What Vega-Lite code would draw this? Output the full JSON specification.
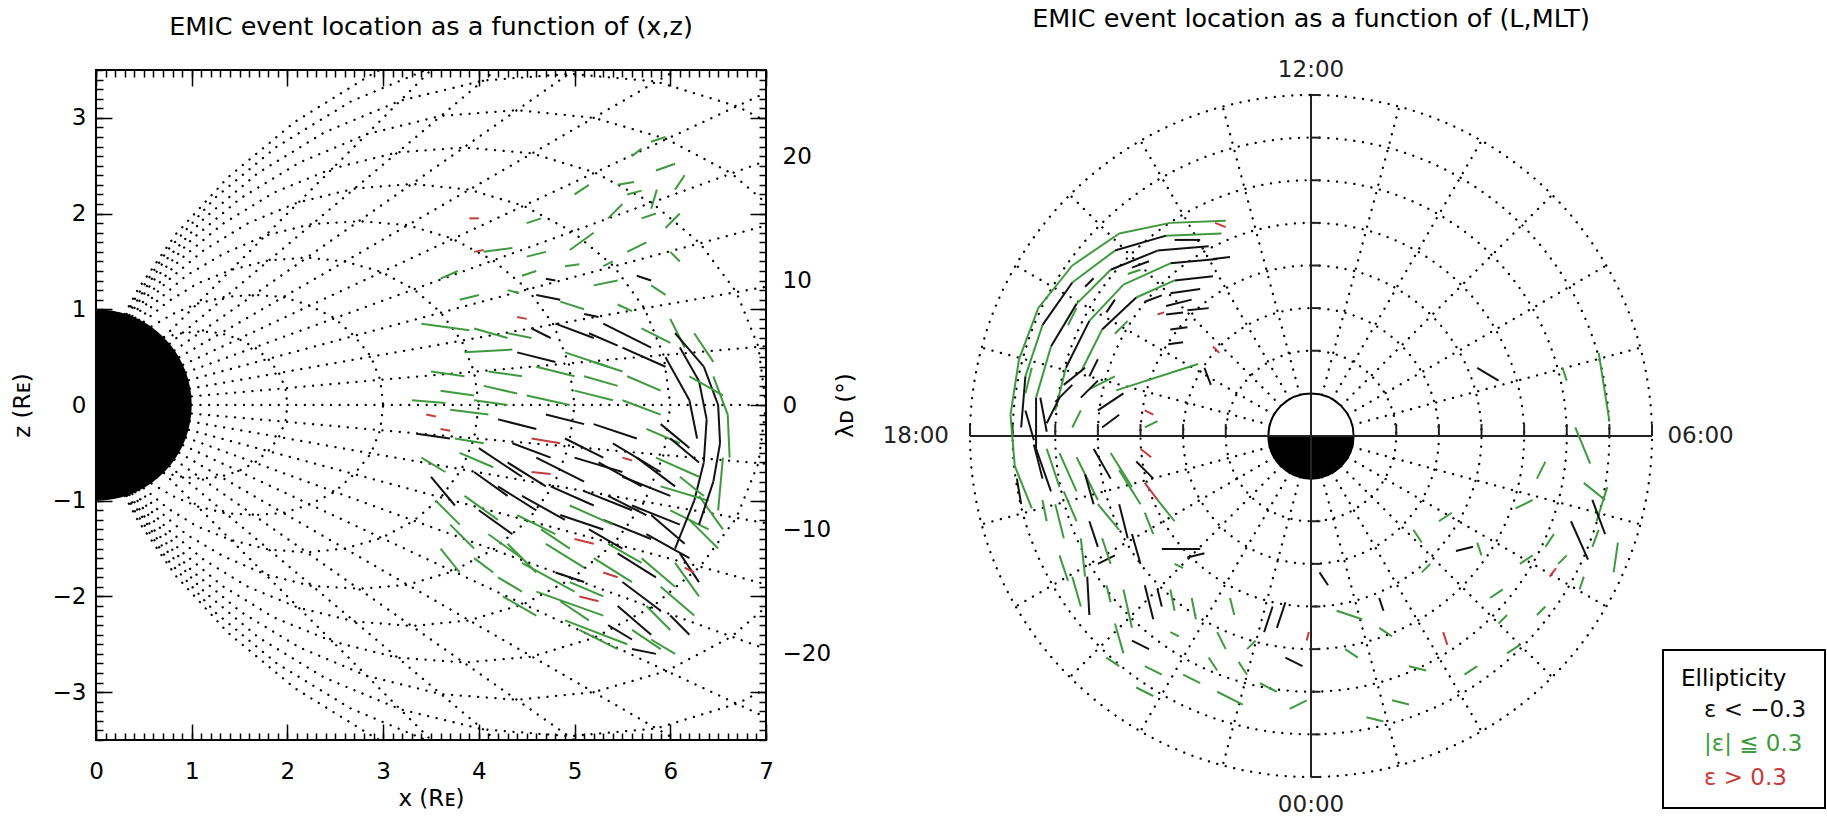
{
  "$schema": "https://vega.github.io/schema/vega-lite/v6.json",
  "background": "white",
  "padding": {"left": 10, "top": 6, "right": 0, "bottom": 0},
  "config": {
    "font": "DejaVu Sans",
    "view": {"stroke": "black", "strokeWidth": 2},
    "axis": {"grid": false, "domain": false, "tickColor": "black", "tickWidth": 1.5, "labelColor": "black", "titleColor": "black", "labelFont": "DejaVu Sans", "titleFont": "DejaVu Sans", "titleFontWeight": "normal", "labelFontSize": 23, "titleFontSize": 23},
    "title": {"font": "DejaVu Sans", "fontSize": 25.5, "fontWeight": "normal", "color": "black"}
  },
  "datasets": {
    "field": [
      {"g":"2n","x":2,"z":0},{"g":"2n","x":1.98,"z":0.17},{"g":"2n","x":1.91,"z":0.34},{"g":"2n","x":1.8,"z":0.48},{"g":"2n","x":1.66,"z":0.6},{"g":"2n","x":1.49,"z":0.69},{"g":"2n","x":1.3,"z":0.75},{"g":"2n","x":1.1,"z":0.77},{"g":"2n","x":0.9,"z":0.75},{"g":"2n","x":0.71,"z":0.71},
      {"g":"3n","x":3,"z":0},{"g":"3n","x":2.97,"z":0.26},{"g":"3n","x":2.87,"z":0.51},{"g":"3n","x":2.7,"z":0.72},{"g":"3n","x":2.49,"z":0.91},{"g":"3n","x":2.23,"z":1.04},{"g":"3n","x":1.95,"z":1.13},{"g":"3n","x":1.65,"z":1.15},{"g":"3n","x":1.35,"z":1.13},{"g":"3n","x":1.06,"z":1.06},{"g":"3n","x":0.8,"z":0.95},{"g":"3n","x":0.58,"z":0.82},
      {"g":"4n","x":4,"z":0},{"g":"4n","x":3.95,"z":0.35},{"g":"4n","x":3.82,"z":0.67},{"g":"4n","x":3.6,"z":0.97},{"g":"4n","x":3.32,"z":1.21},{"g":"4n","x":2.98,"z":1.39},{"g":"4n","x":2.6,"z":1.5},{"g":"4n","x":2.2,"z":1.54},{"g":"4n","x":1.8,"z":1.51},{"g":"4n","x":1.41,"z":1.41},{"g":"4n","x":1.06,"z":1.27},{"g":"4n","x":0.75,"z":1.08},{"g":"4n","x":0.5,"z":0.87},
      {"g":"5n","x":5,"z":0},{"g":"5n","x":4.94,"z":0.43},{"g":"5n","x":4.78,"z":0.84},{"g":"5n","x":4.51,"z":1.21},{"g":"5n","x":4.15,"z":1.51},{"g":"5n","x":3.72,"z":1.74},{"g":"5n","x":3.25,"z":1.88},{"g":"5n","x":2.75,"z":1.92},{"g":"5n","x":2.25,"z":1.89},{"g":"5n","x":1.77,"z":1.77},{"g":"5n","x":1.33,"z":1.58},{"g":"5n","x":0.94,"z":1.35},{"g":"5n","x":0.63,"z":1.08},{"g":"5n","x":0.45,"z":0.89},
      {"g":"6n","x":6,"z":0},{"g":"6n","x":5.93,"z":0.52},{"g":"6n","x":5.73,"z":1.01},{"g":"6n","x":5.41,"z":1.45},{"g":"6n","x":4.98,"z":1.81},{"g":"6n","x":4.47,"z":2.08},{"g":"6n","x":3.9,"z":2.25},{"g":"6n","x":3.3,"z":2.31},{"g":"6n","x":2.7,"z":2.26},{"g":"6n","x":2.12,"z":2.12},{"g":"6n","x":1.59,"z":1.9},{"g":"6n","x":1.13,"z":1.62},{"g":"6n","x":0.75,"z":1.3},{"g":"6n","x":0.45,"z":0.97},{"g":"6n","x":0.41,"z":0.91},
      {"g":"7n","x":7,"z":0},{"g":"7n","x":6.92,"z":0.61},{"g":"7n","x":6.69,"z":1.18},{"g":"7n","x":6.31,"z":1.69},{"g":"7n","x":5.81,"z":2.11},{"g":"7n","x":5.21,"z":2.43},{"g":"7n","x":4.55,"z":2.63},{"g":"7n","x":3.85,"z":2.69},{"g":"7n","x":3.15,"z":2.64},{"g":"7n","x":2.47,"z":2.47},{"g":"7n","x":1.86,"z":2.22},{"g":"7n","x":1.32,"z":1.89},{"g":"7n","x":0.88,"z":1.52},{"g":"7n","x":0.53,"z":1.13},{"g":"7n","x":0.38,"z":0.93},
      {"g":"8n","x":7.91,"z":0.69},{"g":"8n","x":7.64,"z":1.35},{"g":"8n","x":7.21,"z":1.93},{"g":"8n","x":6.64,"z":2.42},{"g":"8n","x":5.96,"z":2.78},{"g":"8n","x":5.2,"z":3},{"g":"8n","x":4.4,"z":3.08},{"g":"8n","x":3.6,"z":3.02},{"g":"8n","x":2.83,"z":2.83},{"g":"8n","x":2.12,"z":2.53},{"g":"8n","x":1.51,"z":2.16},{"g":"8n","x":1,"z":1.73},{"g":"8n","x":0.6,"z":1.3},{"g":"8n","x":0.35,"z":0.94},
      {"g":"9n","x":8.11,"z":2.17},{"g":"9n","x":7.47,"z":2.72},{"g":"9n","x":6.7,"z":3.12},{"g":"9n","x":5.85,"z":3.38},{"g":"9n","x":4.95,"z":3.46},{"g":"9n","x":4.05,"z":3.39},{"g":"9n","x":3.18,"z":3.18},{"g":"9n","x":2.39,"z":2.85},{"g":"9n","x":1.7,"z":2.43},{"g":"9n","x":1.13,"z":1.95},{"g":"9n","x":0.68,"z":1.46},{"g":"9n","x":0.36,"z":0.99},{"g":"9n","x":0.33,"z":0.94},
      {"g":"10n","x":8.3,"z":3.02},{"g":"10n","x":7.44,"z":3.47},{"g":"10n","x":6.5,"z":3.75},{"g":"10n","x":5.5,"z":3.85},{"g":"10n","x":4.5,"z":3.77},{"g":"10n","x":3.54,"z":3.54},{"g":"10n","x":2.66,"z":3.17},{"g":"10n","x":1.89,"z":2.7},{"g":"10n","x":1.25,"z":2.17},{"g":"10n","x":0.75,"z":1.62},{"g":"10n","x":0.4,"z":1.1},{"g":"10n","x":0.32,"z":0.95},
      {"g":"11n","x":6.05,"z":4.23},{"g":"11n","x":4.94,"z":4.15},{"g":"11n","x":3.89,"z":3.89},{"g":"11n","x":2.92,"z":3.48},{"g":"11n","x":2.08,"z":2.96},{"g":"11n","x":1.38,"z":2.38},{"g":"11n","x":0.83,"z":1.78},{"g":"11n","x":0.44,"z":1.21},{"g":"11n","x":0.3,"z":0.95},
      {"g":"2s","x":2,"z":0},{"g":"2s","x":1.98,"z":-0.17},{"g":"2s","x":1.91,"z":-0.34},{"g":"2s","x":1.8,"z":-0.48},{"g":"2s","x":1.66,"z":-0.6},{"g":"2s","x":1.49,"z":-0.69},{"g":"2s","x":1.3,"z":-0.75},{"g":"2s","x":1.1,"z":-0.77},{"g":"2s","x":0.9,"z":-0.75},{"g":"2s","x":0.71,"z":-0.71},
      {"g":"3s","x":3,"z":0},{"g":"3s","x":2.97,"z":-0.26},{"g":"3s","x":2.87,"z":-0.51},{"g":"3s","x":2.7,"z":-0.72},{"g":"3s","x":2.49,"z":-0.91},{"g":"3s","x":2.23,"z":-1.04},{"g":"3s","x":1.95,"z":-1.13},{"g":"3s","x":1.65,"z":-1.15},{"g":"3s","x":1.35,"z":-1.13},{"g":"3s","x":1.06,"z":-1.06},{"g":"3s","x":0.8,"z":-0.95},{"g":"3s","x":0.58,"z":-0.82},
      {"g":"4s","x":4,"z":0},{"g":"4s","x":3.95,"z":-0.35},{"g":"4s","x":3.82,"z":-0.67},{"g":"4s","x":3.6,"z":-0.97},{"g":"4s","x":3.32,"z":-1.21},{"g":"4s","x":2.98,"z":-1.39},{"g":"4s","x":2.6,"z":-1.5},{"g":"4s","x":2.2,"z":-1.54},{"g":"4s","x":1.8,"z":-1.51},{"g":"4s","x":1.41,"z":-1.41},{"g":"4s","x":1.06,"z":-1.27},{"g":"4s","x":0.75,"z":-1.08},{"g":"4s","x":0.5,"z":-0.87},
      {"g":"5s","x":5,"z":0},{"g":"5s","x":4.94,"z":-0.43},{"g":"5s","x":4.78,"z":-0.84},{"g":"5s","x":4.51,"z":-1.21},{"g":"5s","x":4.15,"z":-1.51},{"g":"5s","x":3.72,"z":-1.74},{"g":"5s","x":3.25,"z":-1.88},{"g":"5s","x":2.75,"z":-1.92},{"g":"5s","x":2.25,"z":-1.89},{"g":"5s","x":1.77,"z":-1.77},{"g":"5s","x":1.33,"z":-1.58},{"g":"5s","x":0.94,"z":-1.35},{"g":"5s","x":0.63,"z":-1.08},{"g":"5s","x":0.45,"z":-0.89},
      {"g":"6s","x":6,"z":0},{"g":"6s","x":5.93,"z":-0.52},{"g":"6s","x":5.73,"z":-1.01},{"g":"6s","x":5.41,"z":-1.45},{"g":"6s","x":4.98,"z":-1.81},{"g":"6s","x":4.47,"z":-2.08},{"g":"6s","x":3.9,"z":-2.25},{"g":"6s","x":3.3,"z":-2.31},{"g":"6s","x":2.7,"z":-2.26},{"g":"6s","x":2.12,"z":-2.12},{"g":"6s","x":1.59,"z":-1.9},{"g":"6s","x":1.13,"z":-1.62},{"g":"6s","x":0.75,"z":-1.3},{"g":"6s","x":0.45,"z":-0.97},{"g":"6s","x":0.41,"z":-0.91},
      {"g":"7s","x":7,"z":0},{"g":"7s","x":6.92,"z":-0.61},{"g":"7s","x":6.69,"z":-1.18},{"g":"7s","x":6.31,"z":-1.69},{"g":"7s","x":5.81,"z":-2.11},{"g":"7s","x":5.21,"z":-2.43},{"g":"7s","x":4.55,"z":-2.63},{"g":"7s","x":3.85,"z":-2.69},{"g":"7s","x":3.15,"z":-2.64},{"g":"7s","x":2.47,"z":-2.47},{"g":"7s","x":1.86,"z":-2.22},{"g":"7s","x":1.32,"z":-1.89},{"g":"7s","x":0.88,"z":-1.52},{"g":"7s","x":0.53,"z":-1.13},{"g":"7s","x":0.38,"z":-0.93},
      {"g":"8s","x":7.91,"z":-0.69},{"g":"8s","x":7.64,"z":-1.35},{"g":"8s","x":7.21,"z":-1.93},{"g":"8s","x":6.64,"z":-2.42},{"g":"8s","x":5.96,"z":-2.78},{"g":"8s","x":5.2,"z":-3},{"g":"8s","x":4.4,"z":-3.08},{"g":"8s","x":3.6,"z":-3.02},{"g":"8s","x":2.83,"z":-2.83},{"g":"8s","x":2.12,"z":-2.53},{"g":"8s","x":1.51,"z":-2.16},{"g":"8s","x":1,"z":-1.73},{"g":"8s","x":0.6,"z":-1.3},{"g":"8s","x":0.35,"z":-0.94},
      {"g":"9s","x":8.11,"z":-2.17},{"g":"9s","x":7.47,"z":-2.72},{"g":"9s","x":6.7,"z":-3.12},{"g":"9s","x":5.85,"z":-3.38},{"g":"9s","x":4.95,"z":-3.46},{"g":"9s","x":4.05,"z":-3.39},{"g":"9s","x":3.18,"z":-3.18},{"g":"9s","x":2.39,"z":-2.85},{"g":"9s","x":1.7,"z":-2.43},{"g":"9s","x":1.13,"z":-1.95},{"g":"9s","x":0.68,"z":-1.46},{"g":"9s","x":0.36,"z":-0.99},{"g":"9s","x":0.33,"z":-0.94},
      {"g":"10s","x":8.3,"z":-3.02},{"g":"10s","x":7.44,"z":-3.47},{"g":"10s","x":6.5,"z":-3.75},{"g":"10s","x":5.5,"z":-3.85},{"g":"10s","x":4.5,"z":-3.77},{"g":"10s","x":3.54,"z":-3.54},{"g":"10s","x":2.66,"z":-3.17},{"g":"10s","x":1.89,"z":-2.7},{"g":"10s","x":1.25,"z":-2.17},{"g":"10s","x":0.75,"z":-1.62},{"g":"10s","x":0.4,"z":-1.1},{"g":"10s","x":0.32,"z":-0.95},
      {"g":"11s","x":6.05,"z":-4.23},{"g":"11s","x":4.94,"z":-4.15},{"g":"11s","x":3.89,"z":-3.89},{"g":"11s","x":2.92,"z":-3.48},{"g":"11s","x":2.08,"z":-2.96},{"g":"11s","x":1.38,"z":-2.38},{"g":"11s","x":0.83,"z":-1.78},{"g":"11s","x":0.44,"z":-1.21},{"g":"11s","x":0.3,"z":-0.95}
    ],
    "radial": [
      {"x":1,"z":0,"x2":8,"z2":0},
      {"x":1,"z":0.09,"x2":7.97,"z2":0.7},{"x":1,"z":-0.09,"x2":7.97,"z2":-0.7},
      {"x":0.98,"z":0.17,"x2":7.88,"z2":1.39},{"x":0.98,"z":-0.17,"x2":7.88,"z2":-1.39},
      {"x":0.97,"z":0.26,"x2":7.73,"z2":2.07},{"x":0.97,"z":-0.26,"x2":7.73,"z2":-2.07},
      {"x":0.94,"z":0.34,"x2":7.52,"z2":2.74},{"x":0.94,"z":-0.34,"x2":7.52,"z2":-2.74},
      {"x":0.91,"z":0.42,"x2":7.25,"z2":3.38},{"x":0.91,"z":-0.42,"x2":7.25,"z2":-3.38},
      {"x":0.87,"z":0.5,"x2":6.93,"z2":4},{"x":0.87,"z":-0.5,"x2":6.93,"z2":-4},
      {"x":0.82,"z":0.57,"x2":6.55,"z2":4.59},{"x":0.82,"z":-0.57,"x2":6.55,"z2":-4.59},
      {"x":0.77,"z":0.64,"x2":6.13,"z2":5.14},{"x":0.77,"z":-0.64,"x2":6.13,"z2":-5.14},
      {"x":0.71,"z":0.71,"x2":5.66,"z2":5.66},{"x":0.71,"z":-0.71,"x2":5.66,"z2":-5.66}
    ],
    "earth": [
      {"x":0,"h":1,"hn":-1},{"x":0.0872,"h":0.9962,"hn":-0.9962},{"x":0.1736,"h":0.9848,"hn":-0.9848},{"x":0.2588,"h":0.9659,"hn":-0.9659},{"x":0.342,"h":0.9397,"hn":-0.9397},{"x":0.4226,"h":0.9063,"hn":-0.9063},{"x":0.5,"h":0.866,"hn":-0.866},{"x":0.5736,"h":0.8192,"hn":-0.8192},{"x":0.6428,"h":0.766,"hn":-0.766},{"x":0.7071,"h":0.7071,"hn":-0.7071},{"x":0.766,"h":0.6428,"hn":-0.6428},{"x":0.8192,"h":0.5736,"hn":-0.5736},{"x":0.866,"h":0.5,"hn":-0.5},{"x":0.9063,"h":0.4226,"hn":-0.4226},{"x":0.9397,"h":0.342,"hn":-0.342},{"x":0.9659,"h":0.2588,"hn":-0.2588},{"x":0.9848,"h":0.1736,"hn":-0.1736},{"x":0.9962,"h":0.0872,"hn":-0.0872},{"x":1,"h":0,"hn":0}
    ],
    "segL": [
      {"x":5.8,"z":2.75,"x2":5.95,"z2":2.8,"e":"|ε| ≦ 0.3"},
      {"x":5.85,"z":2.45,"x2":6.05,"z2":2.52,"e":"|ε| ≦ 0.3"},
      {"x":5.45,"z":2.3,"x2":5.62,"z2":2.33,"e":"|ε| ≦ 0.3"},
      {"x":5.55,"z":2.2,"x2":5.7,"z2":2.24,"e":"|ε| ≦ 0.3"},
      {"x":5.8,"z":2.05,"x2":5.86,"z2":2.25,"e":"|ε| ≦ 0.3"},
      {"x":4.95,"z":1.62,"x2":5.2,"z2":1.8,"e":"|ε| ≦ 0.3"},
      {"x":5.35,"z":1.95,"x2":5.5,"z2":2.1,"e":"|ε| ≦ 0.3"},
      {"x":5.95,"z":1.85,"x2":6.1,"z2":2.0,"e":"|ε| ≦ 0.3"},
      {"x":3.95,"z":1.6,"x2":4.05,"z2":1.62,"e":"ε > 0.3"},
      {"x":4.05,"z":1.6,"x2":4.35,"z2":1.64,"e":"|ε| ≦ 0.3"},
      {"x":4.45,"z":1.35,"x2":4.6,"z2":1.4,"e":"|ε| ≦ 0.3"},
      {"x":3.6,"z":1.32,"x2":3.78,"z2":1.4,"e":"|ε| ≦ 0.3"},
      {"x":4.9,"z":1.45,"x2":5.05,"z2":1.47,"e":"|ε| ≦ 0.3"},
      {"x":4.6,"z":1.15,"x2":4.85,"z2":1.1,"e":"ε < −0.3"},
      {"x":4.85,"z":1.08,"x2":5.1,"z2":1.0,"e":"|ε| ≦ 0.3"},
      {"x":5.8,"z":1.25,"x2":5.95,"z2":1.15,"e":"|ε| ≦ 0.3"},
      {"x":5.3,"z":1.45,"x2":5.4,"z2":1.5,"e":"|ε| ≦ 0.3"},
      {"x":4.3,"z":1.2,"x2":4.42,"z2":1.17,"e":"|ε| ≦ 0.3"},
      {"x":4.7,"z":1.32,"x2":4.8,"z2":1.3,"e":"ε < −0.3"},
      {"x":6.0,"z":1.6,"x2":6.1,"z2":1.5,"e":"|ε| ≦ 0.3"},
      {"x":3.9,"z":1.95,"x2":4.0,"z2":1.95,"e":"ε > 0.3"},
      {"x":5.6,"z":2.6,"x2":5.7,"z2":2.68,"e":"|ε| ≦ 0.3"},
      {"x":5.1,"z":0.95,"x2":5.25,"z2":0.92,"e":"ε < −0.3"},
      {"x":3.4,"z":0.85,"x2":3.9,"z2":0.78,"e":"|ε| ≦ 0.3"},
      {"x":3.95,"z":0.8,"x2":4.3,"z2":0.7,"e":"|ε| ≦ 0.3"},
      {"x":4.4,"z":0.92,"x2":4.5,"z2":0.9,"e":"ε > 0.3"},
      {"x":4.55,"z":0.8,"x2":4.75,"z2":0.7,"e":"ε < −0.3"},
      {"x":4.8,"z":0.85,"x2":5.2,"z2":0.7,"e":"ε < −0.3"},
      {"x":5.15,"z":0.75,"x2":5.45,"z2":0.62,"e":"ε < −0.3"},
      {"x":5.3,"z":0.85,"x2":5.8,"z2":0.6,"e":"ε < −0.3"},
      {"x":5.5,"z":0.6,"x2":5.95,"z2":0.4,"e":"ε < −0.3"},
      {"x":5.7,"z":0.8,"x2":6.0,"z2":0.65,"e":"|ε| ≦ 0.3"},
      {"x":4.4,"z":0.55,"x2":4.8,"z2":0.45,"e":"ε < −0.3"},
      {"x":4.9,"z":0.55,"x2":5.35,"z2":0.4,"e":"|ε| ≦ 0.3"},
      {"x":3.85,"z":0.55,"x2":4.35,"z2":0.58,"e":"|ε| ≦ 0.3"},
      {"x":4.1,"z":0.35,"x2":4.45,"z2":0.3,"e":"|ε| ≦ 0.3"},
      {"x":5.55,"z":0.3,"x2":5.9,"z2":0.15,"e":"|ε| ≦ 0.3"},
      {"x":6.0,"z":0.9,"x2":6.15,"z2":0.6,"e":"|ε| ≦ 0.3"},
      {"x":6.25,"z":0.75,"x2":6.45,"z2":0.45,"e":"|ε| ≦ 0.3"},
      {"x":6.05,"z":0.75,"x2":6.35,"z2":0.4,"e":"ε < −0.3"},
      {"x":6.35,"z":0.4,"x2":6.5,"z2":0.0,"e":"ε < −0.3"},
      {"x":6.5,"z":0.0,"x2":6.52,"z2":-0.4,"e":"ε < −0.3"},
      {"x":6.52,"z":-0.4,"x2":6.45,"z2":-0.8,"e":"ε < −0.3"},
      {"x":6.1,"z":0.6,"x2":6.3,"z2":0.25,"e":"ε < −0.3"},
      {"x":6.3,"z":0.25,"x2":6.38,"z2":-0.15,"e":"ε < −0.3"},
      {"x":6.38,"z":-0.15,"x2":6.35,"z2":-0.6,"e":"ε < −0.3"},
      {"x":6.35,"z":-0.6,"x2":6.25,"z2":-1.0,"e":"ε < −0.3"},
      {"x":6.2,"z":0.3,"x2":6.55,"z2":0.1,"e":"|ε| ≦ 0.3"},
      {"x":6.45,"z":0.3,"x2":6.6,"z2":-0.1,"e":"|ε| ≦ 0.3"},
      {"x":6.6,"z":-0.1,"x2":6.62,"z2":-0.55,"e":"|ε| ≦ 0.3"},
      {"x":5.95,"z":0.5,"x2":6.2,"z2":0.05,"e":"ε < −0.3"},
      {"x":6.2,"z":0.05,"x2":6.28,"z2":-0.35,"e":"ε < −0.3"},
      {"x":3.3,"z":0.05,"x2":3.65,"z2":0.02,"e":"|ε| ≦ 0.3"},
      {"x":3.45,"z":-0.1,"x2":3.55,"z2":-0.12,"e":"ε > 0.3"},
      {"x":3.6,"z":0.15,"x2":3.95,"z2":0.1,"e":"|ε| ≦ 0.3"},
      {"x":3.7,"z":-0.05,"x2":4.1,"z2":-0.1,"e":"|ε| ≦ 0.3"},
      {"x":4.05,"z":0.2,"x2":4.4,"z2":0.12,"e":"|ε| ≦ 0.3"},
      {"x":4.2,"z":-0.15,"x2":4.6,"z2":-0.25,"e":"ε < −0.3"},
      {"x":4.5,"z":0.1,"x2":4.95,"z2":0.0,"e":"|ε| ≦ 0.3"},
      {"x":4.7,"z":-0.1,"x2":5.1,"z2":-0.2,"e":"ε < −0.3"},
      {"x":5.0,"z":0.15,"x2":5.4,"z2":0.05,"e":"|ε| ≦ 0.3"},
      {"x":5.2,"z":-0.2,"x2":5.65,"z2":-0.35,"e":"ε < −0.3"},
      {"x":5.5,"z":0.05,"x2":5.9,"z2":-0.1,"e":"|ε| ≦ 0.3"},
      {"x":3.35,"z":-0.3,"x2":3.7,"z2":-0.35,"e":"ε < −0.3"},
      {"x":3.75,"z":-0.35,"x2":4.05,"z2":-0.4,"e":"|ε| ≦ 0.3"},
      {"x":4.55,"z":-0.35,"x2":4.85,"z2":-0.4,"e":"ε > 0.3"},
      {"x":5.75,"z":-0.25,"x2":6.1,"z2":-0.4,"e":"|ε| ≦ 0.3"},
      {"x":3.5,"z":-0.75,"x2":3.75,"z2":-1.05,"e":"ε < −0.3"},
      {"x":4.0,"z":-0.45,"x2":4.45,"z2":-0.75,"e":"ε < −0.3"},
      {"x":4.3,"z":-0.6,"x2":4.7,"z2":-0.85,"e":"ε < −0.3"},
      {"x":4.2,"z":-0.85,"x2":4.6,"z2":-1.1,"e":"ε < −0.3"},
      {"x":4.6,"z":-0.55,"x2":5.1,"z2":-0.8,"e":"ε < −0.3"},
      {"x":4.75,"z":-0.85,"x2":5.2,"z2":-1.05,"e":"ε < −0.3"},
      {"x":5.0,"z":-0.55,"x2":5.5,"z2":-0.7,"e":"ε < −0.3"},
      {"x":5.1,"z":-0.9,"x2":5.6,"z2":-1.1,"e":"ε < −0.3"},
      {"x":5.4,"z":-0.4,"x2":5.9,"z2":-0.7,"e":"ε < −0.3"},
      {"x":5.5,"z":-0.75,"x2":6.0,"z2":-0.95,"e":"ε < −0.3"},
      {"x":5.6,"z":-1.05,"x2":6.1,"z2":-1.25,"e":"ε < −0.3"},
      {"x":5.85,"z":-0.55,"x2":6.3,"z2":-0.75,"e":"|ε| ≦ 0.3"},
      {"x":5.9,"z":-0.85,"x2":6.4,"z2":-1.0,"e":"|ε| ≦ 0.3"},
      {"x":4.4,"z":-1.15,"x2":4.8,"z2":-1.35,"e":"|ε| ≦ 0.3"},
      {"x":4.85,"z":-1.15,"x2":5.3,"z2":-1.3,"e":"ε < −0.3"},
      {"x":5.3,"z":-1.2,"x2":5.8,"z2":-1.4,"e":"ε < −0.3"},
      {"x":3.85,"z":-0.95,"x2":4.2,"z2":-1.2,"e":"|ε| ≦ 0.3"},
      {"x":3.7,"z":-1.25,"x2":3.95,"z2":-1.5,"e":"|ε| ≦ 0.3"},
      {"x":4.1,"z":-1.35,"x2":4.45,"z2":-1.6,"e":"|ε| ≦ 0.3"},
      {"x":5.0,"z":-1.4,"x2":5.2,"z2":-1.45,"e":"ε > 0.3"},
      {"x":5.75,"z":-1.35,"x2":6.2,"z2":-1.6,"e":"ε < −0.3"},
      {"x":6.0,"z":-1.1,"x2":6.4,"z2":-1.3,"e":"|ε| ≦ 0.3"},
      {"x":4.55,"z":-0.7,"x2":4.75,"z2":-0.72,"e":"ε > 0.3"},
      {"x":3.4,"z":-0.55,"x2":3.65,"z2":-0.7,"e":"|ε| ≦ 0.3"},
      {"x":4.45,"z":-1.65,"x2":5.0,"z2":-1.95,"e":"|ε| ≦ 0.3"},
      {"x":4.6,"z":-1.95,"x2":5.3,"z2":-2.2,"e":"|ε| ≦ 0.3"},
      {"x":4.9,"z":-2.25,"x2":5.55,"z2":-2.5,"e":"|ε| ≦ 0.3"},
      {"x":5.2,"z":-1.6,"x2":5.6,"z2":-1.85,"e":"|ε| ≦ 0.3"},
      {"x":5.5,"z":-1.85,"x2":5.9,"z2":-2.15,"e":"ε < −0.3"},
      {"x":5.45,"z":-2.1,"x2":5.8,"z2":-2.4,"e":"ε < −0.3"},
      {"x":5.7,"z":-1.6,"x2":6.05,"z2":-1.9,"e":"|ε| ≦ 0.3"},
      {"x":5.9,"z":-1.9,"x2":6.25,"z2":-2.2,"e":"|ε| ≦ 0.3"},
      {"x":5.6,"z":-2.35,"x2":5.9,"z2":-2.55,"e":"|ε| ≦ 0.3"},
      {"x":5.3,"z":-1.75,"x2":5.45,"z2":-1.8,"e":"ε > 0.3"},
      {"x":6.1,"z":-1.55,"x2":6.3,"z2":-1.85,"e":"ε < −0.3"},
      {"x":4.2,"z":-1.8,"x2":4.45,"z2":-1.95,"e":"|ε| ≦ 0.3"},
      {"x":3.95,"z":-1.6,"x2":4.15,"z2":-1.75,"e":"|ε| ≦ 0.3"},
      {"x":5.05,"z":-2.0,"x2":5.25,"z2":-2.05,"e":"ε > 0.3"},
      {"x":6.2,"z":-1.2,"x2":6.5,"z2":-1.5,"e":"|ε| ≦ 0.3"},
      {"x":5.6,"z":-2.55,"x2":5.85,"z2":-2.6,"e":"ε < −0.3"},
      {"x":4.8,"z":-1.75,"x2":5.1,"z2":-1.85,"e":"ε < −0.3"},
      {"x":6.3,"z":-0.95,"x2":6.55,"z2":-1.3,"e":"|ε| ≦ 0.3"},
      {"x":4.9,"z":-0.35,"x2":5.3,"z2":-0.55,"e":"ε < −0.3"},
      {"x":5.35,"z":-0.95,"x2":5.75,"z2":-1.15,"e":"ε < −0.3"},
      {"x":5.15,"z":-1.3,"x2":5.5,"z2":-1.5,"e":"ε < −0.3"},
      {"x":4.45,"z":-0.95,"x2":4.9,"z2":-1.2,"e":"ε < −0.3"},
      {"x":3.95,"z":-0.7,"x2":4.3,"z2":-0.95,"e":"ε < −0.3"},
      {"x":5.8,"z":-1.15,"x2":6.15,"z2":-1.45,"e":"ε < −0.3"},
      {"x":6.0,"z":-0.35,"x2":6.3,"z2":-0.6,"e":"ε < −0.3"},
      {"x":5.65,"z":-0.55,"x2":6.05,"z2":-0.85,"e":"ε < −0.3"},
      {"x":4.7,"z":-1.45,"x2":5.1,"z2":-1.7,"e":"|ε| ≦ 0.3"},
      {"x":5.35,"z":-1.45,"x2":5.7,"z2":-1.65,"e":"|ε| ≦ 0.3"},
      {"x":4.3,"z":-1.45,"x2":4.6,"z2":-1.75,"e":"|ε| ≦ 0.3"},
      {"x":5.05,"z":-2.35,"x2":5.45,"z2":-2.55,"e":"|ε| ≦ 0.3"},
      {"x":5.75,"z":-2.1,"x2":6.0,"z2":-2.35,"e":"|ε| ≦ 0.3"},
      {"x":6.05,"z":-1.65,"x2":6.3,"z2":-2.0,"e":"|ε| ≦ 0.3"},
      {"x":3.55,"z":-1.0,"x2":3.8,"z2":-1.25,"e":"|ε| ≦ 0.3"},
      {"x":4.95,"z":-1.85,"x2":5.3,"z2":-2.0,"e":"|ε| ≦ 0.3"},
      {"x":4.6,"z":0.4,"x2":5.0,"z2":0.3,"e":"|ε| ≦ 0.3"},
      {"x":5.2,"z":0.45,"x2":5.5,"z2":0.35,"e":"|ε| ≦ 0.3"},
      {"x":3.5,"z":0.35,"x2":3.85,"z2":0.3,"e":"|ε| ≦ 0.3"},
      {"x":4.3,"z":0.75,"x2":4.55,"z2":0.7,"e":"|ε| ≦ 0.3"},
      {"x":6.45,"z":-0.8,"x2":6.3,"z2":-1.25,"e":"ε < −0.3"},
      {"x":6.25,"z":-1.0,"x2":6.05,"z2":-1.5,"e":"ε < −0.3"},
      {"x":6.55,"z":-0.55,"x2":6.5,"z2":-1.1,"e":"|ε| ≦ 0.3"},
      {"x":5.2,"z":1.25,"x2":5.45,"z2":1.3,"e":"|ε| ≦ 0.3"},
      {"x":5.55,"z":1.6,"x2":5.75,"z2":1.7,"e":"|ε| ≦ 0.3"},
      {"x":4.5,"z":1.9,"x2":4.65,"z2":1.95,"e":"|ε| ≦ 0.3"},
      {"x":5.0,"z":2.2,"x2":5.15,"z2":2.3,"e":"|ε| ≦ 0.3"},
      {"x":3.6,"z":-0.25,"x2":3.7,"z2":-0.27,"e":"ε > 0.3"},
      {"x":5.5,"z":-0.55,"x2":5.6,"z2":-0.58,"e":"ε > 0.3"},
      {"x":6.15,"z":-1.7,"x2":6.25,"z2":-1.75,"e":"ε > 0.3"},
      {"x":5.25,"z":-0.6,"x2":5.7,"z2":-0.85,"e":"ε < −0.3"},
      {"x":4.35,"z":-0.4,"x2":4.75,"z2":-0.55,"e":"ε < −0.3"},
      {"x":5.9,"z":-0.2,"x2":6.2,"z2":-0.45,"e":"ε < −0.3"},
      {"x":5.45,"z":-1.55,"x2":5.85,"z2":-1.8,"e":"ε < −0.3"},
      {"x":4.95,"z":-1.05,"x2":5.4,"z2":-1.25,"e":"|ε| ≦ 0.3"},
      {"x":4.0,"z":-1.1,"x2":4.35,"z2":-1.35,"e":"ε < −0.3"},
      {"x":4.65,"z":-1.3,"x2":4.95,"z2":-1.5,"e":"|ε| ≦ 0.3"},
      {"x":3.8,"z":-0.5,"x2":4.15,"z2":-0.65,"e":"|ε| ≦ 0.3"},
      {"x":6.1,"z":-0.75,"x2":6.35,"z2":-0.95,"e":"|ε| ≦ 0.3"},
      {"x":5.1,"z":0.3,"x2":5.45,"z2":0.2,"e":"|ε| ≦ 0.3"},
      {"x":3.95,"z":0.05,"x2":4.3,"z2":0.0,"e":"|ε| ≦ 0.3"},
      {"x":4.85,"z":-2.05,"x2":5.15,"z2":-2.25,"e":"|ε| ≦ 0.3"},
      {"x":5.35,"z":-2.3,"x2":5.6,"z2":-2.45,"e":"ε < −0.3"},
      {"x":4.25,"z":-2.0,"x2":4.6,"z2":-2.2,"e":"|ε| ≦ 0.3"},
      {"x":5.8,"z":-2.45,"x2":6.05,"z2":-2.6,"e":"|ε| ≦ 0.3"},
      {"x":6.0,"z":-2.2,"x2":6.2,"z2":-2.4,"e":"ε < −0.3"},
      {"x":3.6,"z":-1.5,"x2":3.8,"z2":-1.75,"e":"|ε| ≦ 0.3"},
      {"x":4.5,"z":1.55,"x2":4.7,"z2":1.6,"e":"|ε| ≦ 0.3"},
      {"x":5.7,"z":1.95,"x2":5.85,"z2":2.0,"e":"|ε| ≦ 0.3"},
      {"x":6.05,"z":2.25,"x2":6.15,"z2":2.4,"e":"|ε| ≦ 0.3"},
      {"x":3.8,"z":1.1,"x2":4.0,"z2":1.15,"e":"|ε| ≦ 0.3"},
      {"x":5.65,"z":1.35,"x2":5.8,"z2":1.3,"e":"ε < −0.3"},
      {"x":5.45,"z":1.05,"x2":5.6,"z2":0.98,"e":"|ε| ≦ 0.3"}
    ],
    "rings": [{"L":2},{"L":3},{"L":4},{"L":5},{"L":6},{"L":7},{"L":8}],
    "spokes": [
      {"x":0.9659,"y":0.2588,"x2":7.727,"y2":2.071},{"x":0.866,"y":0.5,"x2":6.928,"y2":4},{"x":0.7071,"y":0.7071,"x2":5.657,"y2":5.657},{"x":0.5,"y":0.866,"x2":4,"y2":6.928},{"x":0.2588,"y":0.9659,"x2":2.071,"y2":7.727},
      {"x":-0.2588,"y":0.9659,"x2":-2.071,"y2":7.727},{"x":-0.5,"y":0.866,"x2":-4,"y2":6.928},{"x":-0.7071,"y":0.7071,"x2":-5.657,"y2":5.657},{"x":-0.866,"y":0.5,"x2":-6.928,"y2":4},{"x":-0.9659,"y":0.2588,"x2":-7.727,"y2":2.071},
      {"x":-0.9659,"y":-0.2588,"x2":-7.727,"y2":-2.071},{"x":-0.866,"y":-0.5,"x2":-6.928,"y2":-4},{"x":-0.7071,"y":-0.7071,"x2":-5.657,"y2":-5.657},{"x":-0.5,"y":-0.866,"x2":-4,"y2":-6.928},{"x":-0.2588,"y":-0.9659,"x2":-2.071,"y2":-7.727},
      {"x":0.2588,"y":-0.9659,"x2":2.071,"y2":-7.727},{"x":0.5,"y":-0.866,"x2":4,"y2":-6.928},{"x":0.7071,"y":-0.7071,"x2":5.657,"y2":-5.657},{"x":0.866,"y":-0.5,"x2":6.928,"y2":-4},{"x":0.9659,"y":-0.2588,"x2":7.727,"y2":-2.071}
    ],
    "paxes": [{"x":-8,"y":0,"x2":8,"y2":0},{"x":0,"y":-8,"x2":0,"y2":8}],
    "pticks": [
      {"x":2,"y":0,"x2":2,"y2":0.28},{"x":3,"y":0,"x2":3,"y2":0.28},{"x":4,"y":0,"x2":4,"y2":0.28},{"x":5,"y":0,"x2":5,"y2":0.28},{"x":6,"y":0,"x2":6,"y2":0.28},{"x":7,"y":0,"x2":7,"y2":0.28},{"x":8,"y":0,"x2":8,"y2":0.28},
      {"x":-2,"y":0,"x2":-2,"y2":0.28},{"x":-3,"y":0,"x2":-3,"y2":0.28},{"x":-4,"y":0,"x2":-4,"y2":0.28},{"x":-5,"y":0,"x2":-5,"y2":0.28},{"x":-6,"y":0,"x2":-6,"y2":0.28},{"x":-7,"y":0,"x2":-7,"y2":0.28},{"x":-8,"y":0,"x2":-8,"y2":0.28},
      {"x":0,"y":2,"x2":0.22,"y2":2},{"x":0,"y":3,"x2":0.22,"y2":3},{"x":0,"y":4,"x2":0.22,"y2":4},{"x":0,"y":5,"x2":0.22,"y2":5},{"x":0,"y":6,"x2":0.22,"y2":6},{"x":0,"y":7,"x2":0.22,"y2":7},{"x":0,"y":8,"x2":0.22,"y2":8},
      {"x":0,"y":-2,"x2":0.22,"y2":-2},{"x":0,"y":-3,"x2":0.22,"y2":-3},{"x":0,"y":-4,"x2":0.22,"y2":-4},{"x":0,"y":-5,"x2":0.22,"y2":-5},{"x":0,"y":-6,"x2":0.22,"y2":-6},{"x":0,"y":-7,"x2":0.22,"y2":-7},{"x":0,"y":-8,"x2":0.22,"y2":-8}
    ],
    "mlt": [{"t":"12:00","x":0,"y":8.5865},{"t":"00:00","x":0,"y":-8.66},{"t":"18:00","x":-9.27,"y":0},{"t":"06:00","x":9.14,"y":0}],
    "segR": [
      {"x":-2.0,"y":5.05,"x2":-3.3,"y2":5.0,"e":"|ε| ≦ 0.3"},
      {"x":-3.3,"y":5.0,"x2":-4.5,"y2":4.75,"e":"|ε| ≦ 0.3"},
      {"x":-4.5,"y":4.75,"x2":-5.6,"y2":4.0,"e":"|ε| ≦ 0.3"},
      {"x":-5.6,"y":4.0,"x2":-6.4,"y2":3.0,"e":"|ε| ≦ 0.3"},
      {"x":-6.4,"y":3.0,"x2":-6.85,"y2":1.8,"e":"|ε| ≦ 0.3"},
      {"x":-6.85,"y":1.8,"x2":-7.05,"y2":0.5,"e":"|ε| ≦ 0.3"},
      {"x":-7.05,"y":0.5,"x2":-6.95,"y2":-0.7,"e":"|ε| ≦ 0.3"},
      {"x":-6.95,"y":-0.7,"x2":-6.55,"y2":-1.7,"e":"|ε| ≦ 0.3"},
      {"x":-2.25,"y":5.0,"x2":-2.0,"y2":4.9,"e":"ε > 0.3"},
      {"x":-2.4,"y":4.45,"x2":-3.6,"y2":4.35,"e":"ε < −0.3"},
      {"x":-3.6,"y":4.35,"x2":-4.7,"y2":3.9,"e":"ε < −0.3"},
      {"x":-4.7,"y":3.9,"x2":-5.5,"y2":3.1,"e":"|ε| ≦ 0.3"},
      {"x":-5.5,"y":3.1,"x2":-6.1,"y2":2.1,"e":"ε < −0.3"},
      {"x":-6.1,"y":2.1,"x2":-6.45,"y2":0.9,"e":"|ε| ≦ 0.3"},
      {"x":-6.45,"y":0.9,"x2":-6.45,"y2":-0.3,"e":"ε < −0.3"},
      {"x":-6.45,"y":-0.3,"x2":-6.1,"y2":-1.3,"e":"ε < −0.3"},
      {"x":-2.2,"y":4.15,"x2":-3.3,"y2":4.05,"e":"ε < −0.3"},
      {"x":-3.3,"y":4.05,"x2":-4.4,"y2":3.55,"e":"|ε| ≦ 0.3"},
      {"x":-4.4,"y":3.55,"x2":-5.2,"y2":2.7,"e":"|ε| ≦ 0.3"},
      {"x":-5.2,"y":2.7,"x2":-5.75,"y2":1.6,"e":"ε < −0.3"},
      {"x":-5.75,"y":1.6,"x2":-6.0,"y2":0.6,"e":"|ε| ≦ 0.3"},
      {"x":-2.3,"y":3.75,"x2":-3.2,"y2":3.65,"e":"ε < −0.3"},
      {"x":-3.2,"y":3.65,"x2":-4.1,"y2":3.25,"e":"|ε| ≦ 0.3"},
      {"x":-4.1,"y":3.25,"x2":-4.9,"y2":2.5,"e":"ε < −0.3"},
      {"x":-4.9,"y":2.5,"x2":-5.4,"y2":1.5,"e":"|ε| ≦ 0.3"},
      {"x":-2.6,"y":3.45,"x2":-3.3,"y2":3.35,"e":"ε < −0.3"},
      {"x":-2.8,"y":3.2,"x2":-3.4,"y2":3.05,"e":"ε < −0.3"},
      {"x":-3.0,"y":2.9,"x2":-3.4,"y2":2.85,"e":"ε < −0.3"},
      {"x":-2.9,"y":2.55,"x2":-3.3,"y2":2.5,"e":"ε < −0.3"},
      {"x":-3.0,"y":2.2,"x2":-3.35,"y2":2.15,"e":"ε < −0.3"},
      {"x":-3.6,"y":2.85,"x2":-3.45,"y2":2.9,"e":"ε > 0.3"},
      {"x":-4.0,"y":3.9,"x2":-4.3,"y2":3.8,"e":"|ε| ≦ 0.3"},
      {"x":-4.6,"y":3.2,"x2":-4.8,"y2":2.9,"e":"ε < −0.3"},
      {"x":-5.3,"y":3.5,"x2":-5.1,"y2":3.7,"e":"ε < −0.3"},
      {"x":-5.7,"y":2.6,"x2":-5.5,"y2":3.0,"e":"|ε| ≦ 0.3"},
      {"x":-2.3,"y":2.1,"x2":-2.15,"y2":1.95,"e":"ε > 0.3"},
      {"x":-2.5,"y":1.6,"x2":-2.35,"y2":1.2,"e":"ε < −0.3"},
      {"x":-4.57,"y":1.07,"x2":-2.65,"y2":1.69,"e":"|ε| ≦ 0.3"},
      {"x":-5.2,"y":1.1,"x2":-4.6,"y2":1.4,"e":"|ε| ≦ 0.3"},
      {"x":-5.8,"y":1.2,"x2":-5.3,"y2":1.6,"e":"ε < −0.3"},
      {"x":-6.0,"y":0.8,"x2":-5.6,"y2":1.2,"e":"ε < −0.3"},
      {"x":-5.4,"y":0.9,"x2":-5.0,"y2":1.3,"e":"ε < −0.3"},
      {"x":-5.0,"y":0.6,"x2":-4.4,"y2":1.0,"e":"ε < −0.3"},
      {"x":-6.2,"y":0.3,"x2":-5.9,"y2":0.9,"e":"ε < −0.3"},
      {"x":-5.6,"y":0.2,"x2":-5.4,"y2":0.6,"e":"|ε| ≦ 0.3"},
      {"x":-4.9,"y":0.2,"x2":-4.5,"y2":0.5,"e":"ε < −0.3"},
      {"x":-3.9,"y":0.6,"x2":-3.7,"y2":0.5,"e":"ε > 0.3"},
      {"x":-3.9,"y":0.2,"x2":-3.6,"y2":0.35,"e":"|ε| ≦ 0.3"},
      {"x":-4.0,"y":-0.3,"x2":-3.75,"y2":-0.5,"e":"ε > 0.3"},
      {"x":-6.35,"y":0.9,"x2":-6.2,"y2":0.1,"e":"ε < −0.3"},
      {"x":-6.7,"y":0.6,"x2":-6.5,"y2":-0.1,"e":"ε < −0.3"},
      {"x":-6.2,"y":-0.3,"x2":-5.9,"y2":-1.2,"e":"|ε| ≦ 0.3"},
      {"x":-5.9,"y":-0.4,"x2":-5.5,"y2":-1.3,"e":"|ε| ≦ 0.3"},
      {"x":-5.5,"y":-0.5,"x2":-5.0,"y2":-1.5,"e":"|ε| ≦ 0.3"},
      {"x":-5.1,"y":-0.3,"x2":-4.7,"y2":-1.0,"e":"ε < −0.3"},
      {"x":-4.7,"y":-0.4,"x2":-4.2,"y2":-1.2,"e":"|ε| ≦ 0.3"},
      {"x":-4.5,"y":-0.8,"x2":-4.0,"y2":-1.6,"e":"|ε| ≦ 0.3"},
      {"x":-4.1,"y":-0.6,"x2":-3.7,"y2":-1.0,"e":"ε < −0.3"},
      {"x":-3.9,"y":-1.1,"x2":-3.6,"y2":-1.5,"e":"ε > 0.3"},
      {"x":-5.8,"y":-1.3,"x2":-5.5,"y2":-2.0,"e":"|ε| ≦ 0.3"},
      {"x":-6.0,"y":-1.6,"x2":-5.8,"y2":-2.4,"e":"|ε| ≦ 0.3"},
      {"x":-5.0,"y":-1.6,"x2":-4.5,"y2":-2.2,"e":"|ε| ≦ 0.3"},
      {"x":-4.5,"y":-1.6,"x2":-4.3,"y2":-2.4,"e":"ε < −0.3"},
      {"x":-3.9,"y":-1.8,"x2":-3.7,"y2":-2.3,"e":"|ε| ≦ 0.3"},
      {"x":-3.6,"y":-1.5,"x2":-3.2,"y2":-2.0,"e":"|ε| ≦ 0.3"},
      {"x":-5.4,"y":-2.4,"x2":-5.3,"y2":-3.3,"e":"|ε| ≦ 0.3"},
      {"x":-5.0,"y":-3.0,"x2":-4.6,"y2":-2.8,"e":"ε < −0.3"},
      {"x":-3.5,"y":-2.65,"x2":-2.6,"y2":-2.65,"e":"ε < −0.3"},
      {"x":-2.9,"y":-2.85,"x2":-2.5,"y2":-2.75,"e":"ε < −0.3"},
      {"x":-4.2,"y":-2.3,"x2":-4.0,"y2":-3.0,"e":"ε < −0.3"},
      {"x":-5.25,"y":-3.3,"x2":-5.2,"y2":-4.2,"e":"ε < −0.3"},
      {"x":-4.4,"y":-3.6,"x2":-4.2,"y2":-4.5,"e":"|ε| ≦ 0.3"},
      {"x":-3.9,"y":-3.5,"x2":-3.7,"y2":-4.3,"e":"ε < −0.3"},
      {"x":-4.2,"y":-4.8,"x2":-3.8,"y2":-5.0,"e":"ε < −0.3"},
      {"x":-4.6,"y":-4.4,"x2":-4.4,"y2":-5.1,"e":"|ε| ≦ 0.3"},
      {"x":-5.6,"y":-3.3,"x2":-5.4,"y2":-4.0,"e":"|ε| ≦ 0.3"},
      {"x":-3.3,"y":-4.6,"x2":-3.1,"y2":-4.7,"e":"|ε| ≦ 0.3"},
      {"x":-3.6,"y":-3.6,"x2":-3.5,"y2":-4.0,"e":"ε < −0.3"},
      {"x":-2.8,"y":-3.8,"x2":-2.7,"y2":-4.3,"e":"|ε| ≦ 0.3"},
      {"x":-3.2,"y":-3.0,"x2":-3.0,"y2":-3.1,"e":"|ε| ≦ 0.3"},
      {"x":-3.9,"y":-5.4,"x2":-3.5,"y2":-5.6,"e":"|ε| ≦ 0.3"},
      {"x":-4.8,"y":-5.2,"x2":-4.5,"y2":-5.4,"e":"|ε| ≦ 0.3"},
      {"x":-3.0,"y":-5.6,"x2":-2.6,"y2":-5.8,"e":"|ε| ≦ 0.3"},
      {"x":-2.2,"y":-6.0,"x2":-1.6,"y2":-6.3,"e":"|ε| ≦ 0.3"},
      {"x":-2.4,"y":-5.2,"x2":-2.2,"y2":-5.5,"e":"|ε| ≦ 0.3"},
      {"x":-1.7,"y":-5.3,"x2":-1.5,"y2":-5.6,"e":"|ε| ≦ 0.3"},
      {"x":-0.6,"y":-5.2,"x2":-0.2,"y2":-5.4,"e":"ε < −0.3"},
      {"x":-0.1,"y":-6.2,"x2":-0.5,"y2":-6.4,"e":"|ε| ≦ 0.3"},
      {"x":-0.05,"y":-4.6,"x2":-0.1,"y2":-4.8,"e":"ε > 0.3"},
      {"x":-0.6,"y":-3.9,"x2":-0.8,"y2":-4.5,"e":"ε < −0.3"},
      {"x":-0.9,"y":-4.0,"x2":-1.1,"y2":-4.6,"e":"ε < −0.3"},
      {"x":-1.3,"y":-4.8,"x2":-1.5,"y2":-5.0,"e":"|ε| ≦ 0.3"},
      {"x":-1.9,"y":-3.8,"x2":-1.8,"y2":-4.2,"e":"|ε| ≦ 0.3"},
      {"x":0.6,"y":-4.1,"x2":1.2,"y2":-4.3,"e":"|ε| ≦ 0.3"},
      {"x":0.8,"y":-5.0,"x2":1.1,"y2":-5.2,"e":"|ε| ≦ 0.3"},
      {"x":1.6,"y":-3.8,"x2":1.7,"y2":-4.1,"e":"ε < −0.3"},
      {"x":1.6,"y":-4.5,"x2":1.9,"y2":-4.7,"e":"|ε| ≦ 0.3"},
      {"x":2.3,"y":-5.4,"x2":2.7,"y2":-5.5,"e":"|ε| ≦ 0.3"},
      {"x":3.1,"y":-4.6,"x2":3.2,"y2":-4.9,"e":"ε > 0.3"},
      {"x":3.4,"y":-2.7,"x2":3.8,"y2":-2.6,"e":"ε < −0.3"},
      {"x":3.9,"y":-2.5,"x2":4.0,"y2":-2.8,"e":"|ε| ≦ 0.3"},
      {"x":4.2,"y":-3.8,"x2":4.5,"y2":-3.6,"e":"|ε| ≦ 0.3"},
      {"x":5.3,"y":-4.2,"x2":5.5,"y2":-4.0,"e":"|ε| ≦ 0.3"},
      {"x":4.6,"y":-5.1,"x2":4.9,"y2":-4.9,"e":"|ε| ≦ 0.3"},
      {"x":5.5,"y":-2.6,"x2":5.7,"y2":-2.3,"e":"|ε| ≦ 0.3"},
      {"x":5.8,"y":-3.0,"x2":6.0,"y2":-2.8,"e":"|ε| ≦ 0.3"},
      {"x":6.1,"y":-2.0,"x2":6.5,"y2":-2.9,"e":"ε < −0.3"},
      {"x":6.7,"y":-2.0,"x2":6.95,"y2":-1.2,"e":"|ε| ≦ 0.3"},
      {"x":6.4,"y":-1.1,"x2":6.9,"y2":-1.5,"e":"|ε| ≦ 0.3"},
      {"x":5.3,"y":-1.0,"x2":5.5,"y2":-0.6,"e":"|ε| ≦ 0.3"},
      {"x":5.6,"y":-3.3,"x2":5.75,"y2":-3.1,"e":"ε > 0.3"},
      {"x":4.8,"y":-1.7,"x2":5.2,"y2":-1.5,"e":"|ε| ≦ 0.3"},
      {"x":3.0,"y":-2.0,"x2":3.3,"y2":-1.8,"e":"|ε| ≦ 0.3"},
      {"x":2.4,"y":-2.2,"x2":2.6,"y2":-2.5,"e":"|ε| ≦ 0.3"},
      {"x":6.2,"y":0.2,"x2":6.55,"y2":-0.65,"e":"|ε| ≦ 0.3"},
      {"x":6.75,"y":1.95,"x2":7.0,"y2":0.35,"e":"|ε| ≦ 0.3"},
      {"x":3.9,"y":1.6,"x2":4.4,"y2":1.3,"e":"ε < −0.3"},
      {"x":5.9,"y":1.6,"x2":6.0,"y2":1.3,"e":"|ε| ≦ 0.3"},
      {"x":6.6,"y":-1.5,"x2":6.9,"y2":-2.3,"e":"ε < −0.3"},
      {"x":7.2,"y":-2.5,"x2":7.1,"y2":-3.2,"e":"|ε| ≦ 0.3"},
      {"x":-2.1,"y":4.75,"x2":-3.4,"y2":4.7,"e":"|ε| ≦ 0.3"},
      {"x":-3.4,"y":4.7,"x2":-4.6,"y2":4.35,"e":"ε < −0.3"},
      {"x":-4.6,"y":4.35,"x2":-5.6,"y2":3.6,"e":"|ε| ≦ 0.3"},
      {"x":-5.6,"y":3.6,"x2":-6.3,"y2":2.6,"e":"ε < −0.3"},
      {"x":-6.3,"y":2.6,"x2":-6.7,"y2":1.4,"e":"|ε| ≦ 0.3"},
      {"x":-6.7,"y":1.4,"x2":-6.8,"y2":0.2,"e":"ε < −0.3"},
      {"x":-2.4,"y":3.0,"x2":-2.9,"y2":2.95,"e":"ε < −0.3"},
      {"x":-2.6,"y":4.6,"x2":-3.2,"y2":4.6,"e":"ε < −0.3"},
      {"x":-3.5,"y":3.3,"x2":-3.9,"y2":3.15,"e":"ε < −0.3"},
      {"x":-6.5,"y":-0.2,"x2":-6.3,"y2":-1.0,"e":"ε < −0.3"},
      {"x":-5.3,"y":-0.9,"x2":-5.1,"y2":-1.6,"e":"ε < −0.3"},
      {"x":-4.9,"y":-2.4,"x2":-4.7,"y2":-3.0,"e":"|ε| ≦ 0.3"},
      {"x":-6.3,"y":-1.5,"x2":-6.2,"y2":-2.0,"e":"|ε| ≦ 0.3"},
      {"x":-4.8,"y":-3.5,"x2":-4.7,"y2":-3.9,"e":"|ε| ≦ 0.3"},
      {"x":1.9,"y":-6.2,"x2":2.3,"y2":-6.3,"e":"|ε| ≦ 0.3"},
      {"x":3.6,"y":-5.6,"x2":3.9,"y2":-5.4,"e":"|ε| ≦ 0.3"},
      {"x":4.4,"y":-4.4,"x2":4.6,"y2":-4.2,"e":"|ε| ≦ 0.3"},
      {"x":2.6,"y":-3.2,"x2":2.8,"y2":-3.0,"e":"|ε| ≦ 0.3"},
      {"x":6.3,"y":-3.6,"x2":6.4,"y2":-3.3,"e":"|ε| ≦ 0.3"},
      {"x":0.2,"y":-3.2,"x2":0.4,"y2":-3.5,"e":"ε < −0.3"},
      {"x":-1.9,"y":4.2,"x2":-2.3,"y2":4.15,"e":"ε < −0.3"},
      {"x":-3.8,"y":4.1,"x2":-4.2,"y2":3.95,"e":"ε < −0.3"},
      {"x":-4.3,"y":2.7,"x2":-4.6,"y2":2.4,"e":"|ε| ≦ 0.3"},
      {"x":-5.0,"y":1.8,"x2":-5.2,"y2":1.4,"e":"ε < −0.3"},
      {"x":-6.55,"y":1.6,"x2":-6.7,"y2":1.0,"e":"|ε| ≦ 0.3"},
      {"x":-6.9,"y":-1.0,"x2":-6.8,"y2":-1.6,"e":"ε < −0.3"},
      {"x":-5.2,"y":-2.0,"x2":-5.0,"y2":-2.6,"e":"ε < −0.3"},
      {"x":-3.3,"y":-3.6,"x2":-3.2,"y2":-4.1,"e":"|ε| ≦ 0.3"},
      {"x":-2.2,"y":-4.6,"x2":-2.0,"y2":-5.0,"e":"|ε| ≦ 0.3"},
      {"x":-1.2,"y":-5.8,"x2":-0.8,"y2":-6.0,"e":"|ε| ≦ 0.3"},
      {"x":1.3,"y":-6.6,"x2":1.7,"y2":-6.7,"e":"|ε| ≦ 0.3"},
      {"x":4.9,"y":-3.0,"x2":5.2,"y2":-2.8,"e":"|ε| ≦ 0.3"},
      {"x":6.6,"y":-2.6,"x2":6.75,"y2":-2.2,"e":"|ε| ≦ 0.3"},
      {"x":-4.1,"y":-5.9,"x2":-3.7,"y2":-6.1,"e":"|ε| ≦ 0.3"},
      {"x":-5.9,"y":-2.8,"x2":-5.7,"y2":-3.4,"e":"|ε| ≦ 0.3"}
    ]
  },
  "hconcat": [
    {
      "width": 670,
      "height": 670,
      "title": {"text": "EMIC event location as a function of (x,z)", "frame": "group", "anchor": "middle", "offset": 27},
      "layer": [
        {
          "layer": [
            {
              "data": {"name": "field"},
              "mark": {"type": "line", "clip": true, "color": "black", "strokeWidth": 2.3, "strokeDash": [0.1, 8.6], "strokeCap": "round"},
              "encoding": {
                "x": {"field": "x", "type": "quantitative", "scale": {"domain": [0, 7], "nice": false, "zero": false},
                  "axis": {"orient": "bottom", "values": [0, 1, 2, 3, 4, 5, 6, 7], "tickSize": -16, "labelPadding": 36, "labelOverlap": false, "labelFlush": false, "labelBound": false, "format": "d",
                    "title": "x (Rᴇ)", "titlePadding": 4}},
                "y": {"field": "z", "type": "quantitative", "scale": {"domain": [-3.5, 3.5], "nice": false, "zero": false},
                  "axis": {"orient": "left", "values": [-3, -2, -1, 0, 1, 2, 3], "tickSize": -16, "labelPadding": 26, "labelOverlap": false, "labelFlush": false, "labelBound": false, "format": "d",
                    "title": "z (Rᴇ)", "titlePadding": 18}},
                "detail": {"field": "g"},
                "order": {"field": "x", "type": "quantitative"}
              }
            },
            {
              "data": {"name": "radial"},
              "mark": {"type": "rule", "clip": true, "color": "black", "strokeWidth": 2.3, "strokeDash": [0.1, 8.6], "strokeCap": "round"},
              "encoding": {
                "x": {"field": "x", "type": "quantitative",
                  "axis": {"orient": "top", "values": [0, 1, 2, 3, 4, 5, 6, 7], "tickSize": -16, "labels": false, "title": null}},
                "y": {"field": "z", "type": "quantitative",
                  "axis": {"orient": "right", "values": [-3, -2, -1, 0, 1, 2, 3], "tickSize": -16, "labels": false, "title": null}},
                "x2": {"field": "x2"},
                "y2": {"field": "z2"}
              }
            },
            {
              "data": {"name": "earth"},
              "mark": {"type": "area", "clip": true, "color": "black", "orient": "vertical"},
              "encoding": {
                "x": {"field": "x", "type": "quantitative",
                  "axis": {"orient": "bottom", "tickCount": 70, "tickSize": -7, "labels": false, "title": null}},
                "y": {"field": "h", "type": "quantitative",
                  "axis": {"orient": "left", "tickCount": 70, "tickSize": -7, "labels": false, "title": null}},
                "y2": {"field": "hn"}
              }
            },
            {
              "data": {"name": "segL"},
              "mark": {"type": "rule", "clip": true, "strokeWidth": 2},
              "encoding": {
                "x": {"field": "x", "type": "quantitative",
                  "axis": {"orient": "top", "tickCount": 70, "tickSize": -7, "labels": false, "title": null}},
                "y": {"field": "z", "type": "quantitative",
                  "axis": {"orient": "right", "tickCount": 70, "tickSize": -7, "labels": false, "title": null}},
                "x2": {"field": "x2"},
                "y2": {"field": "z2"},
                "color": {"field": "e", "type": "nominal",
                  "scale": {"domain": ["ε < −0.3", "|ε| ≦ 0.3", "ε > 0.3"], "range": ["#111111", "#3f9a3f", "#c43c3c"]},
                  "legend": {"orient": "none", "legendX": 1567, "legendY": 580, "title": "Ellipticity", "titleFontSize": 23, "titleFont": "DejaVu Sans", "titleFontWeight": "normal", "titleColor": "black", "titlePadding": 7,
                    "labelFontSize": 23, "labelFont": "DejaVu Sans", "labelAlign": "left", "symbolSize": 0, "symbolStrokeWidth": 0, "symbolOpacity": 0, "labelOffset": 0, "padding": 18, "rowPadding": 10,
                    "strokeColor": "black", "fillColor": "white", "cornerRadius": 0,
                    "encode": {"legend": {"update": {"strokeWidth": {"value": 2}}}, "labels": {"update": {"fill": {"scale": "color", "field": "value"}}}}}}
              }
            }
          ],
          "resolve": {"axis": {"x": "independent", "y": "independent"}}
        },
        {
          "data": {"values": [{"lat": -27}, {"lat": 27}]},
          "mark": {"type": "point", "opacity": 0},
          "encoding": {
            "y": {"field": "lat", "type": "quantitative", "scale": {"domain": [-27, 27], "nice": false, "zero": false},
              "axis": {"orient": "right", "values": [-20, -10, 0, 10, 20], "ticks": false, "labelPadding": 16, "labelFlush": false, "labelOverlap": false,
                "title": "λᴅ (°)", "titleAngle": 270, "titleBaseline": "top", "titlePadding": 4}}
          }
        }
      ],
      "resolve": {"scale": {"y": "independent"}, "axis": {"y": "independent"}}
    },
    {
      "width": 732,
      "height": 732,
      "view": {"stroke": null},
      "title": {"text": "EMIC event location as a function of (L,MLT)", "frame": "group", "anchor": "middle", "offset": 27},
      "layer": [
        {
          "data": {"name": "rings"},
          "mark": {"type": "arc", "theta": 0, "theta2": 6.2832, "filled": false, "stroke": "black", "strokeWidth": 2.3, "strokeDash": [0.1, 8.6], "strokeCap": "round"},
          "encoding": {
            "radius": {"field": "L", "type": "quantitative", "stack": null, "scale": {"type": "linear", "domain": [0, 8.5865], "range": [0, 366], "zero": true}, "legend": null}
          }
        },
        {
          "data": {"name": "spokes"},
          "mark": {"type": "rule", "color": "black", "strokeWidth": 2.3, "strokeDash": [0.1, 8.6], "strokeCap": "round"},
          "encoding": {
            "x": {"field": "x", "type": "quantitative", "scale": {"domain": [-8.5865, 8.5865], "nice": false, "zero": false}, "axis": null},
            "y": {"field": "y", "type": "quantitative", "scale": {"domain": [-8.5865, 8.5865], "nice": false, "zero": false}, "axis": null},
            "x2": {"field": "x2"},
            "y2": {"field": "y2"}
          }
        },
        {
          "data": {"values": [{"L": 1}]},
          "mark": {"type": "arc", "theta": -1.5708, "theta2": 1.5708, "fill": "white"},
          "encoding": {"radius": {"field": "L", "type": "quantitative", "stack": null}}
        },
        {
          "data": {"values": [{"L": 1}]},
          "mark": {"type": "arc", "theta": 1.5708, "theta2": 4.7124, "fill": "black"},
          "encoding": {"radius": {"field": "L", "type": "quantitative", "stack": null}}
        },
        {
          "data": {"values": [{"L": 1}]},
          "mark": {"type": "arc", "theta": 0, "theta2": 6.2832, "filled": false, "stroke": "black", "strokeWidth": 2},
          "encoding": {"radius": {"field": "L", "type": "quantitative", "stack": null}}
        },
        {
          "data": {"name": "paxes"},
          "mark": {"type": "rule", "color": "#222222", "strokeWidth": 2},
          "encoding": {
            "x": {"field": "x", "type": "quantitative"},
            "y": {"field": "y", "type": "quantitative"},
            "x2": {"field": "x2"},
            "y2": {"field": "y2"}
          }
        },
        {
          "data": {"name": "pticks"},
          "mark": {"type": "rule", "color": "#222222", "strokeWidth": 2},
          "encoding": {
            "x": {"field": "x", "type": "quantitative"},
            "y": {"field": "y", "type": "quantitative"},
            "x2": {"field": "x2"},
            "y2": {"field": "y2"}
          }
        },
        {
          "data": {"name": "segR"},
          "mark": {"type": "rule", "strokeWidth": 2},
          "encoding": {
            "x": {"field": "x", "type": "quantitative"},
            "y": {"field": "y", "type": "quantitative"},
            "x2": {"field": "x2"},
            "y2": {"field": "y2"},
            "color": {"field": "e", "type": "nominal",
              "scale": {"domain": ["ε < −0.3", "|ε| ≦ 0.3", "ε > 0.3"], "range": ["#111111", "#3f9a3f", "#c43c3c"]}}
          }
        },
        {
          "data": {"name": "mlt"},
          "mark": {"type": "text", "fontSize": 23, "font": "DejaVu Sans", "align": "center", "baseline": "middle", "color": "#222222"},
          "encoding": {
            "x": {"field": "x", "type": "quantitative"},
            "y": {"field": "y", "type": "quantitative"},
            "text": {"field": "t"}
          }
        }
      ]
    }
  ],
  "spacing": 179,
  "bounds": "flush",
  "resolve": {"scale": {"color": "shared"}}
}
